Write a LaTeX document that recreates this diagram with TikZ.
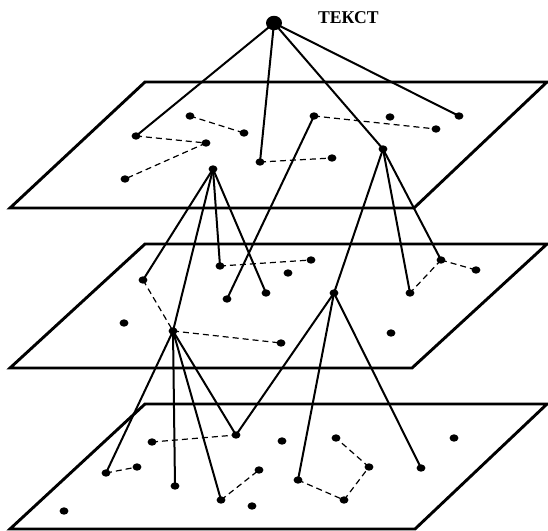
\documentclass[tikz,border=0pt]{standalone}
\usepackage{fontspec}
\setmainfont{Liberation Serif}
\usetikzlibrary{shapes.geometric}
\tikzset{
  plane/.style={line width=2.9pt, line join=miter},
  link/.style={line width=2pt},
  dlink/.style={line width=1.2pt, dash pattern=on 6pt off 4pt},
  dot/.style={ellipse, fill=black, inner sep=0pt, minimum width=8.8pt, minimum height=7.4pt},
  bigdot/.style={ellipse, fill=black, inner sep=0pt, minimum width=16pt, minimum height=14.5pt},
}
\begin{document}
\begin{tikzpicture}[x=1pt,y=-1pt]
\useasboundingbox (0,0) rectangle (548,530);
% planes
\draw[plane] (10,208) -- (414,208) -- (547,82) -- (145,82) -- cycle;
\draw[plane] (10,368) -- (412,368) -- (547,244) -- (145,244) -- cycle;
\draw[plane] (10,529) -- (415,529) -- (547,404) -- (145,404) -- cycle;
% label
\node[anchor=base west, inner sep=0pt] (lab) at (318,23) {\scalebox{0.98}[1]{\fontsize{18}{18}\selectfont\bfseries ТЕКСТ}};
% top
\node[bigdot] (top) at (274,23) {};
% plane 1
\node[dot] (A1) at (136,136) {};
\node[dot] (B1) at (190,116) {};
\node[dot] (B2) at (244,133) {};
\node[dot] (B3) at (206,143) {};
\node[dot] (B9) at (125,179) {};
\node[dot] (B4) at (260,162) {};
\node[dot] (B5) at (332,158) {};
\node[dot] (B6) at (314,116) {};
\node[dot] (B7) at (390,117) {};
\node[dot] (B8) at (436,129) {};
\node[dot] (D1) at (459,116) {};
\node[dot] (C0) at (213,169) {};
\node[dot] (C1) at (383,149) {};
% plane 2
\node[dot] (P2a) at (227,299) {};
\node[dot] (P2b) at (143,280) {};
\node[dot] (P2c) at (124,323) {};
\node[dot] (P2hub) at (173,331) {};
\node[dot] (P2d) at (220,266) {};
\node[dot] (P2e) at (311,260) {};
\node[dot] (P2f) at (288,273) {};
\node[dot] (P2g) at (266,293) {};
\node[dot] (P2hubb) at (334,293) {};
\node[dot] (P2h) at (281,343) {};
\node[dot] (P2i) at (441,260) {};
\node[dot] (P2j) at (476,270) {};
\node[dot] (P2k) at (410,293) {};
\node[dot] (P2l) at (391,333) {};
% plane 3
\node[dot] (P3a) at (152,442) {};
\node[dot] (P3b) at (236,435) {};
\node[dot] (P3c) at (106,473) {};
\node[dot] (P3d) at (137,467) {};
\node[dot] (P3e) at (175,486) {};
\node[dot] (P3f) at (64,511) {};
\node[dot] (P3g) at (282,441) {};
\node[dot] (P3h) at (336,438) {};
\node[dot] (P3i) at (369,467) {};
\node[dot] (P3j) at (259,470) {};
\node[dot] (P3k) at (221,500) {};
\node[dot] (P3l) at (252,506) {};
\node[dot] (P3m) at (298,480) {};
\node[dot] (P3n) at (344,500) {};
\node[dot] (P3o) at (454,438) {};
\node[dot] (P3p) at (421,468) {};
% solid links
\foreach \a/\b in {top/A1, top/B4, top/C1, top/D1, B6/P2a,
  C0/P2b, C0/P2hub, C0/P2d, C0/P2g, C1/P2hubb, C1/P2k, C1/P2i,
  P2hub/P3c, P2hub/P3e, P2hub/P3k, P2hub/P3b,
  P2hubb/P3b, P2hubb/P3m, P2hubb/P3p}
  \draw[link] (\a.center) -- (\b.center);
% dashed links
\foreach \a/\b in {A1/B3, B3/B9, B1/B2, B4/B5, B6/B8,
  P2b/P2hub, P2hub/P2h, P2d/P2e, P2i/P2j, P2i/P2k,
  P3a/P3b, P3c/P3d, P3k/P3j, P3m/P3n, P3n/P3i, P3i/P3h}
  \draw[dlink] (\a.center) -- (\b.center);
\end{tikzpicture}
\end{document}
